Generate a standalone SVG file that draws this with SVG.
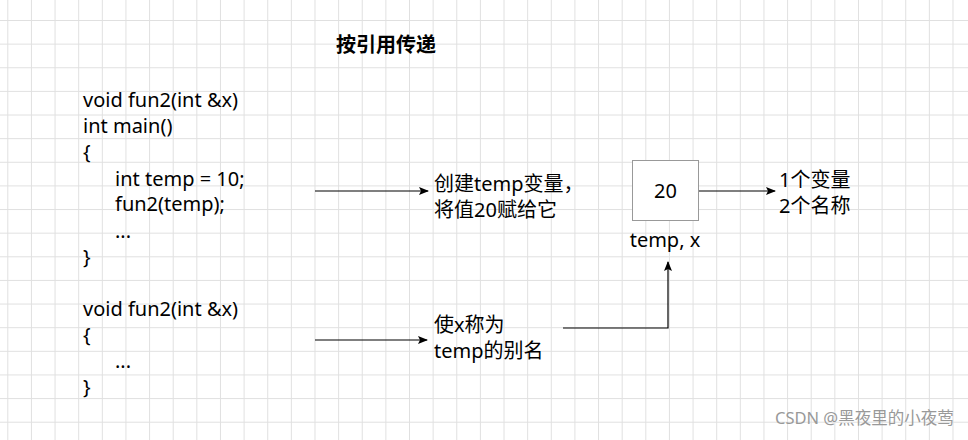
<svg xmlns="http://www.w3.org/2000/svg" width="968" height="440" viewBox="0 0 968 440">
<defs>
<pattern id="grid" patternUnits="userSpaceOnUse" x="7.3" y="20" width="23.63" height="23.63">
<path d="M0.5 0V23.63M0 0.5H23.63" fill="none" stroke="#e0e0e0" stroke-width="1"/>
</pattern>
<marker id="arr" viewBox="0 0 10 8" refX="9" refY="4" markerWidth="10" markerHeight="8" markerUnits="userSpaceOnUse" orient="auto">
<path d="M0 0L10 4L0 8L2 4Z" fill="#000"/>
</marker>
<style>
text{font-family:"Noto Sans","Noto Sans CJK SC",sans-serif;font-size:20px;fill:#000}
.t{font-weight:bold;font-size:20px}
.wm{fill:#999;font-size:16.5px}
.ln{fill:none;stroke:#000;stroke-width:1.2;marker-end:url(#arr)}
</style>
</defs>
<rect width="968" height="440" fill="#fff"/>
<rect width="968" height="440" fill="url(#grid)"/>
<g id="title"><text class="t" x="336" y="52">按引用传递</text></g>
<g id="code1">
<text x="83" y="107">void fun2(int &amp;x)</text>
<text x="83" y="133">int main()</text>
<text x="83" y="159">{</text>
<text x="115" y="186">int temp = 10;</text>
<text x="115" y="211">fun2(temp);</text>
<text x="115" y="238">...</text>
<text x="83" y="264">}</text>
</g>
<g id="code2">
<text x="83" y="316">void fun2(int &amp;x)</text>
<text x="83" y="342">{</text>
<text x="115" y="368">...</text>
<text x="83" y="394">}</text>
</g>
<g id="note1">
<text x="434" y="191">创建temp变量，</text>
<text x="434" y="217">将值20赋给它</text>
</g>
<g id="note2">
<text x="434" y="332">使x称为</text>
<text x="434" y="358">temp的别名</text>
</g>
<g id="box">
<rect x="632.5" y="160.5" width="66" height="60" fill="#fff" stroke="#999"/>
<text x="665.5" y="198" text-anchor="middle">20</text>
<text x="665" y="247" text-anchor="middle">temp, x</text>
</g>
<g id="note3">
<text x="779" y="187">1个变量</text>
<text x="779" y="213">2个名称</text>
</g>
<g id="connectors">
<path class="ln" d="M315 191H428"/>
<path class="ln" d="M315 340H427"/>
<path class="ln" d="M563 328H668V262"/>
<path class="ln" d="M699 191H775"/>
</g>
<g id="watermark"><text class="wm" x="775" y="424">CSDN @黑夜里的小夜莺</text></g>
</svg>
